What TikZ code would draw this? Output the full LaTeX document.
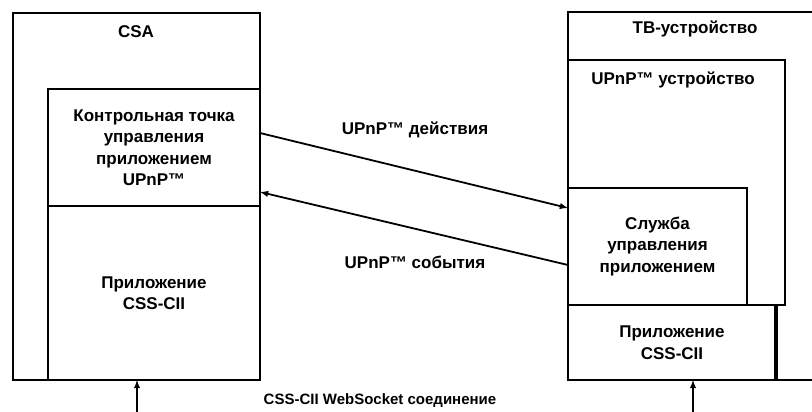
\documentclass[tikz,border=0pt]{standalone}
\usepackage{fontspec}
\setmainfont{Liberation Sans}
\tikzset{>=latex}
\usetikzlibrary{arrows.meta}
\usetikzlibrary{calc}
\tikzset{
  blok/.style={draw, line width=2.6pt, inner sep=0pt, outer sep=0pt, anchor=north west, font=\bfseries\fontsize{17}{21.5}\selectfont, align=center},
  nadpis/.style={font=\bfseries\fontsize{17}{21.5}\selectfont, align=center},
  svyaz/.style={->, line width=1.8pt},
}

\begin{document}
\begin{tikzpicture}[x=1pt, y=-1pt]
            \useasboundingbox (0,0) rectangle (812,412);
            % CSA
            \node[blok, minimum width=247pt, minimum height=367pt] (csa) at (13,13) {};
            \node[nadpis] (csa-name) at (136,32) {CSA};
            \node[blok, minimum width=212pt, minimum height=117pt] (cp) at (48,89) {Контрольная точка\\управления\\приложением\\UPnP™};
            \node[blok, minimum width=212pt, minimum height=174pt] (app-a) at (48,206) {Приложение\\CSS-CII};
            % TV
            \node[blok, minimum width=300pt, minimum height=368pt] (tv) at (568,12) {};
            \node[nadpis] (tv-name) at (695,29) {ТВ-устройство};
            \node[blok, minimum width=217pt, minimum height=245pt] (dev) at (568,60) {};
            \node[nadpis] (dev-name) at (673,80) {UPnP™ устройство};
            \node[blok, minimum width=179pt, minimum height=117pt] (svc) at (568,188) {Служба\\управления\\приложением};
            \node[blok, minimum width=208pt, minimum height=75pt] (app-b) at (568,305) {Приложение\\CSS-CII};
            \draw[line width=4pt] (app-b.north east) -- (app-b.south east);
            % UPnP
            \draw[svyaz] ([yshift=-44pt]cp.north east) -- ([yshift=-20pt]svc.north west);
            \draw[svyaz] ([yshift=-77pt]svc.north west) -- ([yshift=-103pt]cp.north east);
            \node[nadpis] (act) at (415,130) {UPnP™ действия};
            \node[nadpis] (evt) at (415,262) {UPnP™ события};
            % WebSocket
            \coordinate (ws-a) at (137,412);
            \coordinate (ws-b) at (693,412);
            \draw[svyaz] (ws-a) -- (ws-a |- app-a.south);
            \draw[svyaz] (ws-b) -- (ws-b |- app-b.south);
            \node[nadpis, font=\bfseries\fontsize{15}{18}\selectfont] (ws) at (380,401) {CSS-CII WebSocket соединение};
        \end{tikzpicture}
\end{document}
